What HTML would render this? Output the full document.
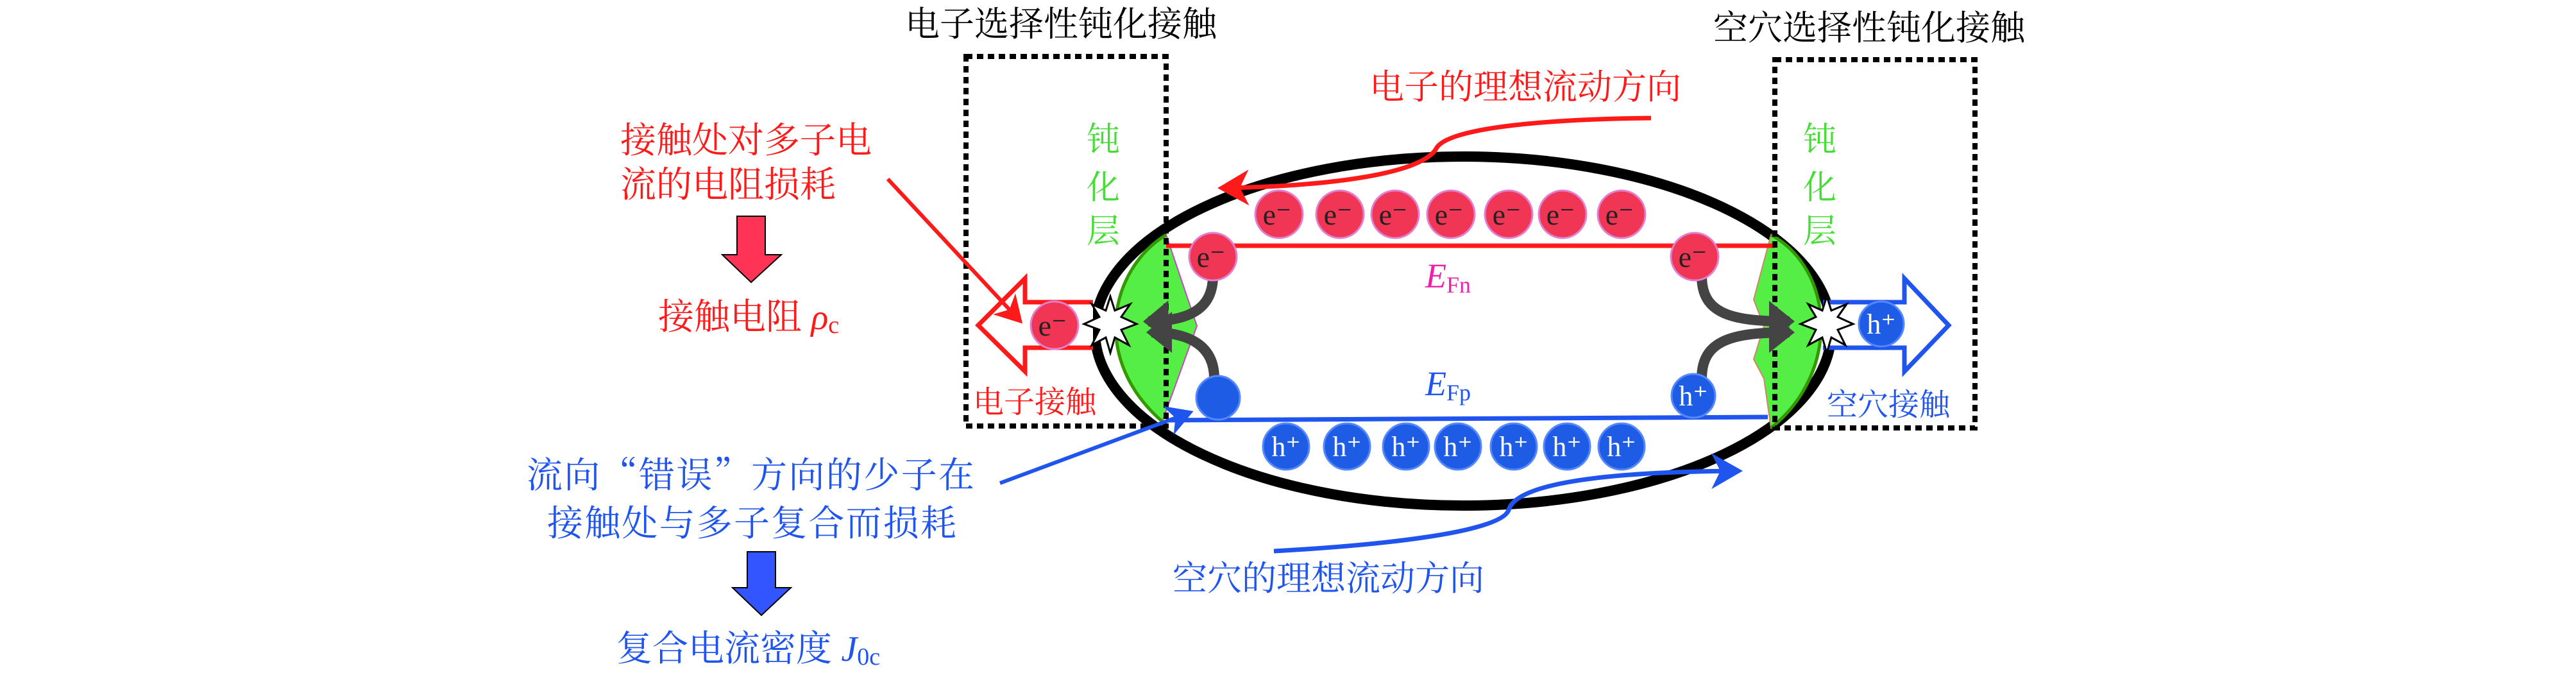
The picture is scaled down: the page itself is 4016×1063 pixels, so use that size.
<!DOCTYPE html>
<html><head><meta charset="utf-8"><style>
html,body{margin:0;padding:0;background:#fff;}
svg{display:block;}
text{font-family:"Liberation Serif","Noto Serif CJK SC",serif;}
.cj{font-family:"Noto Serif CJK SC","Noto Sans CJK SC",serif;}
</style></head><body>
<svg width="4016" height="1063" viewBox="0 0 4016 1063" xmlns="http://www.w3.org/2000/svg">
<defs>
<marker id="ar" markerWidth="8" markerHeight="8" refX="6" refY="4" orient="auto" markerUnits="strokeWidth"><path d="M0,0 L7,4 L0,8 L2,4 Z" fill="#ff1a1a"/></marker>
<marker id="ab" markerWidth="8" markerHeight="8" refX="6" refY="4" orient="auto" markerUnits="strokeWidth"><path d="M0,0 L7,4 L0,8 L2,4 Z" fill="#1f55ee"/></marker>
<marker id="ag" markerWidth="4" markerHeight="4" refX="2" refY="2" orient="auto" markerUnits="strokeWidth"><path d="M0,0 L2.5,2 L0,4 Z" fill="#444"/></marker>
</defs>

<text class="cj" x="1411" y="56" font-size="54" fill="#000">电子选择性钝化接触</text>
<text class="cj" x="2671" y="62" font-size="54" fill="#000">空穴选择性钝化接触</text>

<ellipse cx="2281" cy="516" rx="574" ry="272" fill="none" stroke="#000" stroke-width="16"/>

<path d="M1818,366 C1730,420 1700,560 1812,657 L1866,508 Z" fill="#55ee44" stroke="#cc44cc" stroke-width="2"/>
<path d="M1818,366 C1730,420 1700,560 1812,657" fill="none" stroke="#339900" stroke-width="5"/>
<path d="M2761,366 C2860,420 2870,580 2761,667 L2750,590 L2734,560 L2750,508 L2734,467 Z" fill="#55ee44" stroke="#cc8866" stroke-width="2"/>
<path d="M2761,366 C2860,420 2870,580 2761,667" fill="none" stroke="#339900" stroke-width="5"/>

<line x1="1818" y1="383" x2="2767" y2="383" stroke="#ff1a1a" stroke-width="7"/>
<line x1="1818" y1="655" x2="2756" y2="650" stroke="#1f55ee" stroke-width="7"/>

<rect x="1506" y="88" width="312" height="576" fill="none" stroke="#000" stroke-width="8" stroke-dasharray="10,7"/>
<rect x="2767" y="93" width="312" height="574" fill="none" stroke="#000" stroke-width="8" stroke-dasharray="10,7"/>

<path d="M1704,471 L1598,471 L1598,434 L1525,507 L1598,579 L1598,542 L1704,542" fill="#fff" stroke="#ff1a1a" stroke-width="7"/>
<path d="M2842,471 L2969,471 L2969,434 L3038,507 L2969,579 L2969,542 L2842,542" fill="#fff" stroke="#1f55ee" stroke-width="7"/>

<g fill="none" stroke="#444" stroke-width="16">
<path d="M1891,430 C1891,490 1840,500 1790,501" marker-end="url(#ag)"/>
<path d="M1893,590 C1893,530 1840,518 1795,518" marker-end="url(#ag)"/>
<path d="M2653,430 C2653,490 2700,501 2790,501" marker-end="url(#ag)"/>
<path d="M2653,590 C2653,530 2700,518 2790,518" marker-end="url(#ag)"/>
</g>

<polygon points="1731,462 1738,484 1762,474 1748,494 1772,505 1748,514 1760,538 1738,526 1731,550 1724,526 1702,538 1714,514 1690,505 1714,494 1702,474 1724,484" fill="#fff" stroke="#000" stroke-width="3"/>
<polygon points="2848,462 2855,484 2879,474 2865,494 2889,505 2865,514 2877,538 2855,526 2848,550 2841,526 2819,538 2831,514 2807,505 2831,494 2819,474 2841,484" fill="#fff" stroke="#000" stroke-width="3"/>

<g fill="#f03555" stroke="#e080d0" stroke-width="3">
<circle cx="1994" cy="334" r="37"/><circle cx="2089" cy="334" r="37"/><circle cx="2175" cy="334" r="37"/><circle cx="2262" cy="334" r="37"/><circle cx="2352" cy="334" r="37"/><circle cx="2436" cy="334" r="37"/><circle cx="2528" cy="334" r="37"/>
<circle cx="1891" cy="400" r="37"/><circle cx="2642" cy="400" r="37"/><circle cx="1644" cy="507" r="37"/>
</g>
<g font-size="46" fill="#222" text-anchor="middle">
<text x="1991" y="350">e⁻</text><text x="2086" y="350">e⁻</text><text x="2172" y="350">e⁻</text><text x="2259" y="350">e⁻</text><text x="2349" y="350">e⁻</text><text x="2433" y="350">e⁻</text><text x="2525" y="350">e⁻</text>
<text x="1888" y="416">e⁻</text><text x="2639" y="416">e⁻</text><text x="1641" y="523">e⁻</text>
</g>

<g fill="#1f5ce6" stroke="#5588ff" stroke-width="3">
<circle cx="2005" cy="696" r="36"/><circle cx="2100" cy="696" r="36"/><circle cx="2192" cy="696" r="36"/><circle cx="2273" cy="696" r="36"/><circle cx="2360" cy="696" r="36"/><circle cx="2443" cy="696" r="36"/><circle cx="2528" cy="696" r="36"/>
<circle cx="1899" cy="620" r="34"/><circle cx="2640" cy="617" r="34"/><circle cx="2933" cy="505" r="35"/>
</g>
<g font-size="44" fill="#fff" text-anchor="middle">
<text x="2005" y="711">h⁺</text><text x="2100" y="711">h⁺</text><text x="2192" y="711">h⁺</text><text x="2273" y="711">h⁺</text><text x="2360" y="711">h⁺</text><text x="2443" y="711">h⁺</text><text x="2528" y="711">h⁺</text>
<text x="2640" y="632">h⁺</text><text x="2933" y="520">h⁺</text>
</g>

<text x="2222" y="448" font-size="54" font-style="italic" fill="#ee22aa">E<tspan font-size="36" font-style="normal" dy="8">Fn</tspan></text>
<text x="2222" y="616" font-size="54" font-style="italic" fill="#1f55ee">E<tspan font-size="36" font-style="normal" dy="8">Fp</tspan></text>

<g class="cj" font-size="52" fill="#44dd33" text-anchor="middle">
<text x="1720" y="235">钝</text><text x="1720" y="310">化</text><text x="1720" y="378">层</text>
<text x="2837" y="235">钝</text><text x="2837" y="310">化</text><text x="2837" y="378">层</text>
</g>
<text class="cj" x="1517" y="643" font-size="48" fill="#ff1a1a">电子接触</text>
<text class="cj" x="2848" y="647" font-size="48" fill="#1f55ee">空穴接触</text>

<text class="cj" x="2135" y="154" font-size="54" fill="#ff1a1a">电子的理想流动方向</text>
<path d="M2574,184 C2400,186 2260,200 2240,230 C2220,270 2080,290 1905,293" fill="none" stroke="#ff1a1a" stroke-width="7" marker-end="url(#ar)"/>
<text class="cj" x="1828" y="920" font-size="54" fill="#1f55ee">空穴的理想流动方向</text>
<path d="M1986,859 C2150,850 2340,830 2352,795 C2365,745 2560,735 2710,734" fill="none" stroke="#1f55ee" stroke-width="7" marker-end="url(#ab)"/>

<text class="cj" x="967" y="238" font-size="56" fill="#ff1a1a">接触处对多子电</text>
<text class="cj" x="967" y="307" font-size="56" fill="#ff1a1a">流的电阻损耗</text>
<path d="M1149,337 L1193,337 L1193,397 L1218,397 L1171,440 L1126,397 L1149,397 Z" fill="#ff3355" stroke="#000" stroke-width="2"/>
<text x="1026" y="513" font-size="56" fill="#ff1a1a"><tspan class="cj">接触电阻 </tspan><tspan font-style="italic">ρ</tspan><tspan font-size="38" dy="6">c</tspan></text>
<line x1="1384" y1="279" x2="1590" y2="500" stroke="#ff1a1a" stroke-width="6" marker-end="url(#ar)"/>

<text class="cj" x="821" y="760" font-size="56" fill="#1f55ee" textLength="698" lengthAdjust="spacing">流向“错误”方向的少子在</text>
<text class="cj" x="853" y="835" font-size="56" fill="#1f55ee" textLength="638" lengthAdjust="spacing">接触处与多子复合而损耗</text>
<path d="M1165,860 L1209,860 L1209,916 L1233,916 L1187,959 L1142,916 L1165,916 Z" fill="#3355ff" stroke="#000" stroke-width="2"/>
<text x="961" y="1030" font-size="56" fill="#1f55ee"><tspan class="cj">复合电流密度 </tspan><tspan font-style="italic">J</tspan><tspan font-size="38" dy="6">0c</tspan></text>
<line x1="1559" y1="753" x2="1855" y2="643" stroke="#1f55ee" stroke-width="6" marker-end="url(#ab)"/>
</svg>
</body></html>
